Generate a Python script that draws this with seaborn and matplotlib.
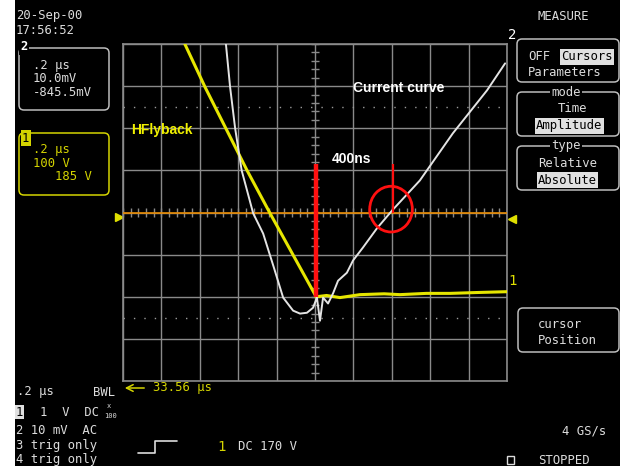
import numpy as np
import pandas as pd
import matplotlib.pyplot as plt
import seaborn as sns
from matplotlib.patches import FancyBboxPatch, Rectangle, Ellipse
from matplotlib.lines import Line2D

# traces, in divisions (x: 0..10, y: -4..4)
ch2_x = [2.68, 2.79, 2.92, 3.09, 3.39, 3.65, 3.93, 4.17, 4.43, 4.61, 4.79, 4.95,
         5.05, 5.13, 5.21, 5.34, 5.47, 5.60, 5.83, 5.99, 6.25, 6.61, 7.01, 7.73,
         8.59, 9.48, 9.95]
ch2_y = [4.00, 2.97, 2.00, 1.00, -0.02, -0.50, -1.31, -2.02, -2.33, -2.40, -2.38, -2.26,
         -2.02, -2.57, -2.02, -2.16, -1.92, -1.62, -1.43, -1.14, -0.83, -0.38, 0.05, 0.76,
         1.88, 2.90, 3.54]
ch1_x = [1.61, 2.14, 3.23, 3.83, 4.97, 5.03, 5.30, 5.65, 6.17, 6.80, 7.21, 7.90,
         8.52, 9.20, 10.0]
ch1_y = [4.00, 2.97, 1.00, -0.02, -1.90, -2.00, -1.97, -2.02, -1.95, -1.93, -1.95, -1.92,
         -1.92, -1.90, -1.88]

cursor_levels = [2.5, -2.5]
marker_t = 5.03      # start of the 400ns window
cursor_t = 7.03      # end of the window
circle_c = (6.98, 0.08)

W, H = 620, 466
sns.set_theme(style='dark')
plt.rcParams['font.family'] = ['DejaVu Sans Mono', 'DejaVu Sans']

fig = plt.figure(figsize=(W / 100, H / 100), dpi=100, facecolor='black')
fig.patches.append(Rectangle((0, 0), 15 / W, 1, transform=fig.transFigure,
                             facecolor='white', edgecolor='none', zorder=0))

ax = fig.add_axes([123 / W, (H - 381) / H, 384 / W, 337 / H])
ax.set_facecolor('black')

grid_c = '#8a8a8a'
ax.set_xlim(0, 10)
ax.set_ylim(-4, 4)
ax.set_xticks(range(11))
ax.set_yticks(range(-4, 5))
ax.tick_params(length=0, labelbottom=False, labelleft=False)
ax.grid(True, color=grid_c, lw=1)
for s in ax.spines.values():
    s.set_color(grid_c)
    s.set_linewidth(1.2)

# tick marks on the centre lines
ax.hlines(np.arange(-4, 4.01, 0.2), 4.9, 5.1, color=grid_c, lw=1)
ax.vlines(np.arange(0, 10.01, 0.2), -0.1, 0.1, color=grid_c, lw=1)

# amplitude cursors
for lv in cursor_levels:
    ax.axhline(lv, color='#9a9a9a', lw=1, ls=(0, (1, 6.5)))
ax.axhline(0, color='#e88a00', lw=1.2, zorder=3)

tr1 = pd.DataFrame({'t': ch1_x, 'v': ch1_y})
tr2 = pd.DataFrame({'t': ch2_x, 'v': ch2_y})
sns.lineplot(data=tr1, x='t', y='v', sort=False, estimator=None, color='#e6e600', lw=2.2, ax=ax, zorder=4)
sns.lineplot(data=tr2, x='t', y='v', sort=False, estimator=None, color='#e4e4e4', lw=1.4, ax=ax, zorder=5)
ax.set_xlabel('')
ax.set_ylabel('')

# red markup
ax.vlines(marker_t, -2.0, 1.16, color='#ff1010', lw=3.2, zorder=6)
ax.vlines(cursor_t, 0.0, 1.16, color='#ff1010', lw=1.6, zorder=6)
ax.add_patch(Ellipse(circle_c, 1.11, 1.085, fill=False, edgecolor='#ff1010', lw=2, zorder=6))

ann = dict(family='Liberation Sans', fontweight='bold', fontsize=10, va='center', zorder=7)
ax.text(5.99, 2.95, 'Current curve', color='white', transform=ax.transData, **ann)
ax.text(5.44, 1.26, '400ns', color='white', **ann)
ax.text(0.21, 1.95, 'HFlyback', color='#f0f000', **ann)

# side markers
ax.plot([-0.1], [-0.1], marker='>', ms=6, color='#e0e000', clip_on=False)
ax.plot([10.14], [-0.15], marker='<', ms=6, color='#e0e000', clip_on=False)


def px(x, y):
    return x / W, 1 - y / H


def txt(x, y, s, color='#dcdcdc', size=8.8, **kw):
    fig.text(*px(x, y), s, color=color, fontsize=size, va='center', **kw)


def box(x0, y0, x1, y1, color='#bdbdbd'):
    fig.patches.append(FancyBboxPatch((x0, H - y1), x1 - x0, y1 - y0,
                                      boxstyle='round,pad=0,rounding_size=5',
                                      transform=None, fill=False, edgecolor=color, lw=1.1))


hi = dict(boxstyle='square,pad=0.12', facecolor='#e0e0e0', edgecolor='none')
blk = dict(boxstyle='square,pad=0.1', facecolor='black', edgecolor='none')

# top-left panel
txt(16, 16, '20-Sep-00')
txt(16, 30, '17:56:52')
box(19, 48, 109, 110)
txt(20, 47, '2', color='white', fontweight='bold', bbox=blk)
txt(33, 66, '.2 μs')
txt(33, 79, '10.0mV')
txt(33, 93, '-845.5mV')
yel = '#d4d400'
box(19, 133, 109, 195, color=yel)
txt(22, 138, '1', color='black', bbox=dict(boxstyle='square,pad=0.1', facecolor=yel, edgecolor='none'))
txt(33, 149, '.2 μs', color=yel)
txt(33, 163, '100 V', color=yel)
txt(55, 177, '185 V', color=yel)

# right menu
txt(538, 17, 'MEASURE')
box(517, 39, 619, 82)
txt(528, 57, 'OFF')
txt(561, 57, 'Cursors', color='black', bbox=hi)
txt(528, 72, 'Parameters')
box(517, 92, 619, 136)
txt(566, 92, 'mode', ha='center', bbox=blk)
txt(572, 109, 'Time', ha='center')
txt(536, 126, 'Amplitude', color='black', bbox=hi)
box(517, 146, 619, 190)
txt(566, 146, 'type', ha='center', bbox=blk)
txt(538, 163, 'Relative')
txt(538, 180, 'Absolute', color='black', bbox=hi)
box(518, 308, 619, 352)
txt(538, 325, 'cursor')
txt(538, 341, 'Position')

txt(508, 35, '2', color='white', size=10)
txt(508, 281, '1', color='#e0e000', size=10)

# bottom status lines
txt(17, 392, '.2 μs')
txt(93, 392, 'BWL')
ax.annotate('', xy=(122, H - 388), xytext=(147, H - 388), xycoords='figure pixels',
            arrowprops=dict(arrowstyle='->', color=yel, lw=1.1))
txt(153, 388, '33.56 μs', color=yel)
txt(16, 412, '1', color='black', bbox=dict(boxstyle='square,pad=0.05', facecolor='#e0e0e0', edgecolor='none'))
txt(40, 412, '1  V  DC')
txt(107, 406, 'x', size=5)
txt(104, 416, '100', size=5)
txt(16, 430, '2 10 mV  AC')
txt(16, 445, '3 trig only')
txt(16, 459, '4 trig only')
fig.add_artist(Line2D([138, 155, 155, 177], [H - 453, H - 453, H - 441, H - 441],
                      transform=None, color='#dcdcdc', lw=1.2))
txt(217, 447, '1', color=yel, size=10)
txt(238, 447, 'DC 170 V')
txt(562, 431, '4 GS/s')
fig.patches.append(Rectangle((507, H - 464), 7, 8, transform=None, fill=False, edgecolor='#dcdcdc', lw=1))
txt(538, 461, 'STOPPED')

fig.savefig('out.png', dpi=100, facecolor='black')
